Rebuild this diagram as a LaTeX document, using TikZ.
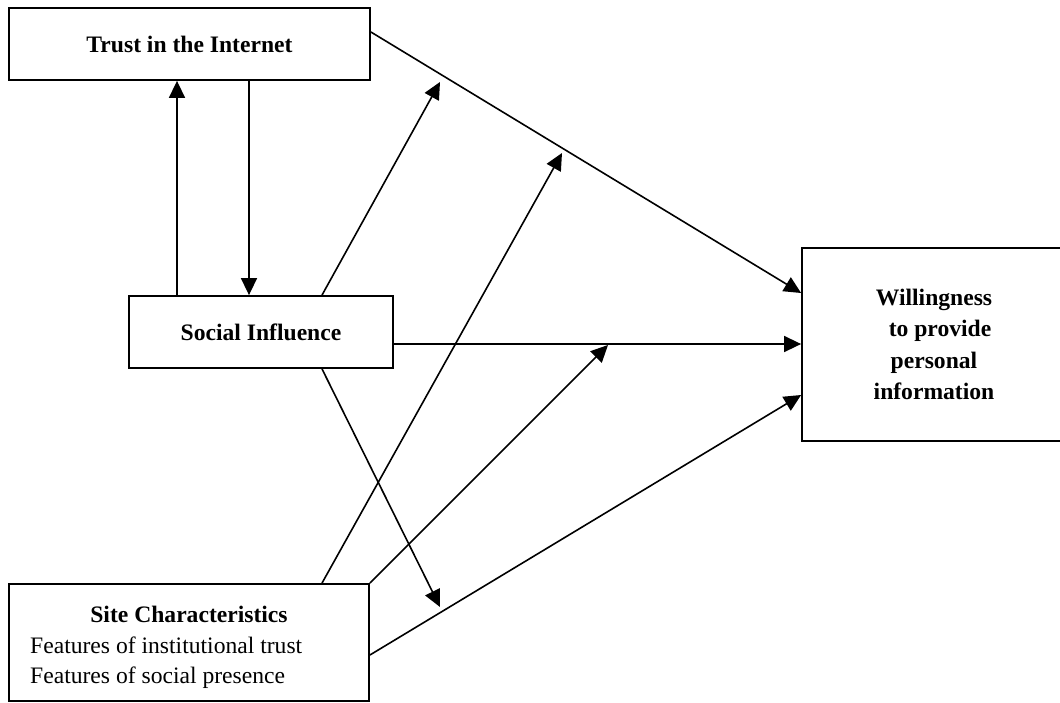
\documentclass[tikz,border=0pt]{standalone}
\usepackage{fontspec}
\setmainfont{Liberation Serif}
\usetikzlibrary{arrows.meta,calc}
\begin{document}
\begin{tikzpicture}[x=1pt,y=-1pt,
  box/.style={draw,line width=1.8pt,inner sep=0pt,align=center,font=\fontsize{23.6}{31.5}\selectfont\bfseries},
  lbl/.style={inner sep=0pt,font=\fontsize{23.6}{31.5}\selectfont},
  arr/.style={line width=1.6pt,-{Triangle[length=17pt,width=16pt]}}]
\useasboundingbox (0,0) rectangle (1060,702);
\clip (0,0) rectangle (1060,702);
% boxes
\node[box,minimum width=361pt,minimum height=72pt] (trust) at (189.5,44) {Trust in the Internet};
\node[box,minimum width=264pt,minimum height=72pt] (social) at (261,332) {Social Influence};
\node[box,minimum width=360pt,minimum height=117pt] (site) at (189,642.5) {};
\node[box,minimum width=300pt,minimum height=193pt] (will) at (952,344.5) {};
\node[lbl,align=center,font=\fontsize{23.6}{31.5}\selectfont\bfseries] (willt) at (934,344.5) {Willingness\\\hspace*{12pt}to provide\\personal\\information};
% site text
\node[lbl,font=\fontsize{23.6}{31.5}\selectfont\bfseries,anchor=base] (sitet) at (189,622) {Site Characteristics};
\node[lbl,anchor=base west] (sitef1) at (30,653) {Features of institutional trust};
\node[lbl,anchor=base west] (sitef2) at (30,683) {Features of social presence};
% helper coordinates
\coordinate (xa) at (177,0);
\coordinate (xb) at (249,0);
\coordinate (xc) at (322,0);
\coordinate (ya) at (0,32);
\coordinate (yb) at (0,293);
\coordinate (yc) at (0,344);
\coordinate (yd) at (0,395);
\coordinate (ye) at (0,655);
\coordinate (m1) at (440,82);
\coordinate (m2) at (562,153);
\coordinate (m3) at (608,345);
\coordinate (m4) at (440,607);
% connectors
\draw[arr] (trust.east |- ya) -- (will.west |- yb);
\draw[arr] (social.north -| xa) -- (trust.south -| xa);
\draw[arr] (trust.south -| xb) -- (social.north -| xb);
\draw[arr] (social.north -| xc) -- (m1);
\draw[arr] (site.north -| xc) -- (m2);
\draw[arr] (social.east |- yc) -- (will.west |- yc);
\draw[arr] (site.north east) -- (m3);
\draw[arr] (site.east |- ye) -- (will.west |- yd);
\draw[arr] (social.south -| xc) -- (m4);
\end{tikzpicture}
\end{document}
